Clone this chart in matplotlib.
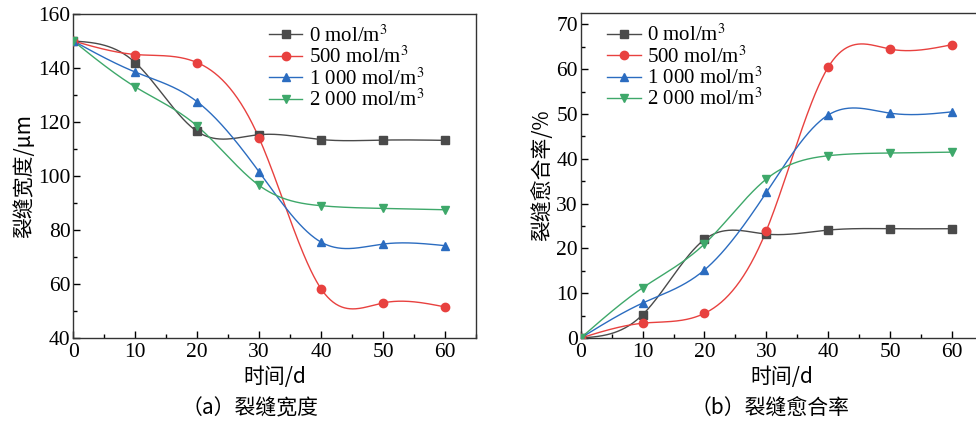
import numpy as np
import matplotlib
matplotlib.use("Agg")
import matplotlib.pyplot as plt
from matplotlib.ticker import MultipleLocator

days = [0, 10, 20, 30, 40, 50, 60]
labels = ["0 mol/m$^3$", "500 mol/m$^3$", "1 000 mol/m$^3$", "2 000 mol/m$^3$"]
width_0 = [150, 142, 116.5, 115.3, 113.5, 113.3, 113.2]
width_500 = [150, 145, 142, 114, 58.2, 53, 51.5]
width_1000 = [150, 138.5, 127.5, 101.5, 75.5, 74.8, 74.2]
width_2000 = [150, 133, 118.5, 96.5, 89, 88, 87.5]
heal_0 = [0, 5.2, 22, 23.2, 24.1, 24.4, 24.4]
heal_500 = [0, 3.3, 5.5, 24, 60.5, 64.5, 65.5]
heal_1000 = [0, 7.8, 15.2, 32.5, 49.8, 50.2, 50.5]
heal_2000 = [0, 11.2, 21, 35.5, 40.7, 41.3, 41.5]

colors = ["#4a4a4a", "#e8413f", "#2b6cc0", "#3ea86a"]
markers = ["s", "o", "^", "v"]

serif = ["Liberation Serif", "DejaVu Serif"]
cjk = ["Noto Sans CJK SC", "Liberation Serif", "DejaVu Sans"]
plt.rcParams["font.family"] = serif
plt.rcParams["mathtext.fontset"] = "stix"


def natural_spline(x, y, xs):
    x = np.asarray(x, float)
    y = np.asarray(y, float)
    n = len(x)
    h = np.diff(x)
    A = np.zeros((n, n))
    b = np.zeros(n)
    A[0, 0] = 1
    A[-1, -1] = 1
    for i in range(1, n - 1):
        A[i, i - 1] = h[i - 1]
        A[i, i] = 2 * (h[i - 1] + h[i])
        A[i, i + 1] = h[i]
        b[i] = 6 * ((y[i + 1] - y[i]) / h[i] - (y[i] - y[i - 1]) / h[i - 1])
    M = np.linalg.solve(A, b)
    idx = np.clip(np.searchsorted(x, xs) - 1, 0, n - 2)
    x0 = x[idx]
    x1 = x[idx + 1]
    hh = x1 - x0
    t0 = x1 - xs
    t1 = xs - x0
    return (M[idx] * t0 ** 3 / (6 * hh) + M[idx + 1] * t1 ** 3 / (6 * hh)
            + (y[idx] / hh - M[idx] * hh / 6) * t0
            + (y[idx + 1] / hh - M[idx + 1] * hh / 6) * t1)


W, H = 976, 421
fig = plt.figure(figsize=(W / 100, H / 100), dpi=100)
ax1 = fig.add_axes([73.3 / W, 1 - 338 / H, (476 - 73.3) / W, (338 - 14) / H])
ax2 = fig.add_axes([580.7 / W, 1 - 338 / H, (983 - 580.7) / W, (338 - 13.3) / H])

xs = np.linspace(0, 60, 400)


def draw(ax, series):
    for yv, c, m, lab in zip(series, colors, markers, labels):
        ax.plot(xs, natural_spline(days, yv, xs), color=c, lw=1.0, zorder=2)
        ax.plot(days, yv, linestyle="none", marker=m, color=c, ms=6, zorder=3)
        ax.plot([], [], color=c, marker=m, ms=6, lw=1.0, label=lab)
    ax.set_xlim(0, 65)
    ax.xaxis.set_major_locator(MultipleLocator(10))
    ax.xaxis.set_minor_locator(MultipleLocator(5))
    ax.tick_params(which="both", direction="in", labelsize=15.5,
                   width=1.0, top=False, right=False)
    ax.tick_params(axis="x", pad=3.5)
    ax.tick_params(axis="y", pad=2)
    ax.tick_params(which="major", length=5)
    ax.tick_params(which="minor", length=3)
    for s in ax.spines.values():
        s.set_linewidth(1.0)
        s.set_color("#333333")
    ax.set_xlabel("时间/d", fontsize=15, family=cjk, labelpad=3)


leg_kw = dict(loc="upper left", frameon=False, fontsize=15, handlelength=1.6,
              handletextpad=0.3, labelspacing=0.0, borderaxespad=0.3)

draw(ax1, [width_0, width_500, width_1000, width_2000])
ax1.set_ylim(40, 160)
ax1.yaxis.set_major_locator(MultipleLocator(20))
ax1.yaxis.set_minor_locator(MultipleLocator(10))
ax1.set_ylabel("裂缝宽度/μm", fontsize=15, family=cjk, labelpad=2)
ax1.legend(bbox_to_anchor=(0.45, 1.01), **leg_kw)

draw(ax2, [heal_0, heal_500, heal_1000, heal_2000])
ax2.set_ylim(0, 72.5)
ax2.yaxis.set_major_locator(MultipleLocator(10))
ax2.yaxis.set_minor_locator(MultipleLocator(5))
ax2.set_ylabel("裂缝愈合率/%", fontsize=15, family=cjk, labelpad=2)
ax2.spines["right"].set_visible(False)
ax2.legend(bbox_to_anchor=(0.03, 1.01), **leg_kw)

fig.text(250 / W, 1 - 408 / H, "（a）裂缝宽度", ha="center", va="center",
         fontsize=15, family=cjk)
fig.text(770 / W, 1 - 408 / H, "（b）裂缝愈合率", ha="center", va="center",
         fontsize=15, family=cjk)

fig.savefig("out.png", dpi=100)
